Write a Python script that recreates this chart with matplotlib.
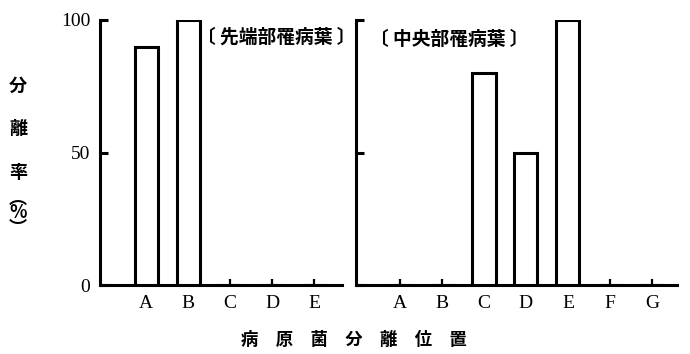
import matplotlib.pyplot as plt
import numpy as np

plt.rcParams['font.family'] = ['Noto Sans CJK JP', 'DejaVu Sans']

# data
left_cats = ['A', 'B', 'C', 'D', 'E']
left_vals = [90, 100, 0, 0, 0]
right_cats = ['A', 'B', 'C', 'D', 'E', 'F', 'G']
right_vals = [0, 0, 80, 50, 100, 0, 0]
y_ticks = [0, 50, 100]
left_title = '〔 先端部罹病葉 〕'
right_title = '〔 中央部罹病葉 〕'
x_label = '病　原　菌　分　離　位　置'
y_label_chars = ['分', '離', '率']

fig = plt.figure(figsize=(6.9, 3.54), dpi=100)
ax1 = fig.add_axes([100 / 690, 1 - 285 / 354, 242 / 690, 265 / 354])
ax2 = fig.add_axes([356 / 690, 1 - 285 / 354, 321 / 690, 265 / 354])

serif = 'Liberation Serif'


def style(ax, cats, vals, xlim, show_ylabels):
    x = np.arange(len(cats))
    ax.bar(x, vals, width=0.55, color='white', edgecolor='black', linewidth=2.2, zorder=3)
    ax.set_xlim(*xlim)
    ax.set_ylim(0, 100)
    ax.set_xticks(x)
    ax.set_xticklabels(cats, fontfamily=serif, fontsize=14)
    ax.set_yticks(y_ticks)
    if show_ylabels:
        ax.set_yticklabels([str(v) for v in y_ticks], fontfamily=serif, fontsize=14)
    else:
        ax.set_yticklabels([])
    ax.tick_params(axis='x', direction='in', length=4, width=1.6, pad=7)
    ax.tick_params(axis='y', direction='in', length=6, width=2.2, pad=7)
    for s in ['top', 'right']:
        ax.spines[s].set_visible(False)
    for s in ['left', 'bottom']:
        ax.spines[s].set_linewidth(2.2)
    ax.patch.set_visible(False)


style(ax1, left_cats, left_vals, (-1.1, 4.67), True)
style(ax2, right_cats, right_vals, (-1.05, 6.6), False)

ax1.text(0.40, 0.935, left_title, transform=ax1.transAxes, ha='left', va='center',
         fontsize=13.5, fontweight='bold')
ax2.text(0.045, 0.925, right_title, transform=ax2.transAxes, ha='left', va='center',
         fontsize=13.5, fontweight='bold')

# vertical y label
for i, ch in enumerate(y_label_chars):
    fig.text(18 / 690, 1 - (86 + 43 * i) / 354, ch, ha='center', va='center',
             fontsize=13, fontweight='bold')
fig.text(18 / 690, 1 - 213 / 354, '︵\n%\n︶', ha='center', va='center',
         fontsize=13, fontweight='bold', linespacing=0.75)

fig.text(354 / 690, 1 - 340 / 354, x_label, ha='center', va='center',
         fontsize=12.5, fontweight='bold')

plt.savefig('out.png', dpi=100)
